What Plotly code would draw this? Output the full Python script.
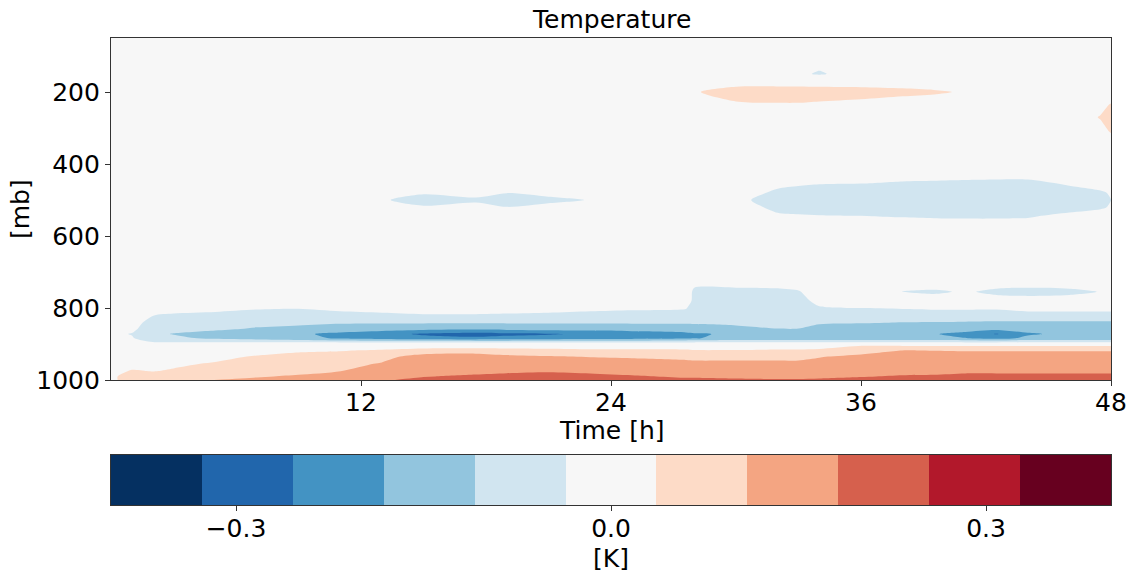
import numpy as np
import plotly.graph_objects as go

# ---------------- data ----------------
time_h = [0, 1, 2, 3, 5, 7, 9, 11, 13, 15, 17.5, 19, 21, 23, 25, 27.6, 28, 30,
          32, 33, 34, 36, 38, 39.5, 41, 42.5, 44, 46, 47.5, 48]

upper_levels_mb = [50, 150, 170, 200, 235, 270, 310, 350, 420, 455, 480, 500, 520, 545, 580]
lower_levels_mb = [690, 730, 755, 780, 800, 820, 840, 858, 872, 884, 896, 906, 918, 935,
                   955, 975, 990, 1000]

# temperature anomaly [K] above 600 mb, one list per time (values at upper_levels_mb)
upper_profiles = [
    [0, 0, 0, 0, 0, 0, 0, 0, 0, 0, 0, 0, 0, 0, 0],                      # 0
    [0, 0, 0, 0, 0, 0, 0, 0, 0, 0, 0, 0, 0, 0, 0],                      # 1
    [0, 0, 0, 0, 0, 0, 0, 0, 0, 0, 0, 0, 0, 0, 0],                      # 2
    [0, 0, 0, 0, 0, 0, 0, 0, 0, 0, 0, 0, 0, 0, 0],                      # 3
    [0, 0, 0, 0, 0, 0, 0, 0, 0, 0, 0, 0, 0, 0, 0],                      # 5
    [0, 0, 0, 0, 0, 0, 0, 0, 0, 0, 0, 0, 0, 0, 0],                      # 7
    [0, 0, 0, 0, 0, 0, 0, 0, 0, 0, 0, 0, 0, 0, 0],                      # 9
    [0, 0, 0, 0, 0, 0, 0, 0, 0, 0, 0, 0, 0, 0, 0],                      # 11
    [0, 0, 0, 0, 0, 0, 0, 0, 0, 0, 0, -0.03, 0, 0, 0],                  # 13
    [0, 0, 0, 0, 0, 0, 0, 0, 0, 0, -0.03, -0.06, -0.03, 0, 0],          # 15
    [0, 0, 0, 0, 0, 0, 0, 0, 0, 0, -0.02, -0.045, -0.02, 0, 0],         # 17.5
    [0, 0, 0, 0, 0, 0, 0, 0, 0, 0, -0.035, -0.065, -0.035, 0, 0],       # 19
    [0, 0, 0, 0, 0, 0, 0, 0, 0, 0, -0.02, -0.05, -0.02, 0, 0],          # 21
    [0, 0, 0, 0, 0, 0, 0, 0, 0, 0, 0, -0.034, 0, 0, 0],                 # 23
    [0, 0, 0, 0, 0, 0, 0, 0, 0, 0, 0, 0, 0, 0, 0],                      # 25
    [0, 0, 0, 0, 0, 0, 0, 0, 0, 0, 0, 0, 0, 0, 0],                      # 27.6
    [0, 0, 0, 0.03, 0, 0, 0, 0, 0, 0, 0, 0, 0, 0, 0],                   # 28
    [0, 0, 0, 0.07, 0.025, 0, 0, 0, 0, 0, 0, -0.02, 0, 0, 0],           # 30
    [0, 0, 0, 0.075, 0.03, 0, 0, 0, 0, -0.02, -0.05, -0.065, -0.055, -0.025, 0],   # 32
    [0, -0.03, 0, 0.075, 0.03, 0, 0, 0, 0, -0.03, -0.055, -0.068, -0.06, -0.03, 0], # 33
    [0, -0.04, 0, 0.07, 0.025, 0, 0, 0, 0, -0.035, -0.058, -0.07, -0.062, -0.033, 0],  # 34
    [0, -0.02, 0, 0.065, 0.015, 0, 0, 0, 0, -0.037, -0.06, -0.07, -0.065, -0.035, 0],  # 36
    [0, 0, 0, 0.055, 0, 0, 0, 0, 0, -0.045, -0.065, -0.072, -0.068, -0.04, 0],     # 38
    [0, 0, 0, 0.045, 0, 0, 0, 0, 0, -0.048, -0.067, -0.073, -0.069, -0.043, 0],    # 39.5
    [0, 0, 0, 0.03, 0, 0, 0, 0, 0, -0.052, -0.068, -0.074, -0.07, -0.045, 0],      # 41
    [0, 0, 0, 0, 0, 0, 0, 0, 0, -0.055, -0.07, -0.075, -0.07, -0.045, 0],          # 42.5
    [0, 0, 0, 0, 0, 0, 0, 0, 0, -0.055, -0.07, -0.075, -0.068, -0.042, 0],         # 44
    [0, 0, 0, 0, 0, 0, 0, 0, 0, -0.03, -0.06, -0.07, -0.06, -0.02, 0],             # 46
    [0, 0, 0, 0, 0.02, 0.04, 0.02, 0, 0, -0.01, -0.045, -0.055, -0.045, -0.005, 0], # 47.5
    [0, 0, 0, 0, 0.04, 0.065, 0.04, 0, 0, 0, -0.03, -0.037, -0.03, 0, 0],          # 48
]

# temperature anomaly [K] below 600 mb, one list per time (values at lower_levels_mb)
lower_profiles = [
    [0, 0, 0, 0, 0, 0, 0, 0, -0.02, -0.01, 0, 0, 0, 0, 0.01, 0.02, 0.03, 0.03],                       # 0
    [0, 0, 0, 0, 0, 0, -0.01, -0.02, -0.04, -0.03, -0.01, 0, 0, 0.01, 0.02, 0.04, 0.05, 0.05],        # 1
    [0, 0, 0, 0, 0, -0.035, -0.06, -0.08, -0.095, -0.08, -0.03, 0, 0.01, 0.015, 0.02, 0.035, 0.05, 0.06],  # 2
    [0, 0, 0, 0, -0.01, -0.045, -0.07, -0.09, -0.112, -0.095, -0.03, 0, 0.01, 0.02, 0.03, 0.04, 0.06, 0.07],  # 3
    [0, 0, 0, 0, -0.02, -0.05, -0.08, -0.1, -0.13, -0.12, -0.03, 0, 0.015, 0.025, 0.04, 0.06, 0.09, 0.11],  # 5
    [0, 0, 0, 0, -0.03, -0.06, -0.09, -0.115, -0.15, -0.14, -0.03, 0, 0.02, 0.04, 0.06, 0.085, 0.105, 0.12],  # 7
    [0, 0, 0, 0, -0.033, -0.065, -0.095, -0.125, -0.17, -0.16, -0.03, 0, 0.03, 0.05, 0.07, 0.095, 0.115, 0.13],  # 9
    [0, 0, 0, 0, -0.025, -0.05, -0.1, -0.14, -0.2, -0.19, -0.03, 0, 0.033, 0.06, 0.085, 0.108, 0.13, 0.145],  # 11
    [0, 0, 0, 0, -0.02, -0.045, -0.1, -0.15, -0.23, -0.21, -0.03, 0, 0.045, 0.085, 0.115, 0.15, 0.17, 0.178],  # 13
    [0, 0, 0, 0, -0.015, -0.04, -0.1, -0.16, -0.265, -0.23, -0.03, 0.01, 0.06, 0.14, 0.16, 0.17, 0.18, 0.19],  # 15
    [0, 0, 0, 0, -0.015, -0.04, -0.1, -0.165, -0.285, -0.24, -0.03, 0.01, 0.065, 0.15, 0.16, 0.17, 0.188, 0.2],  # 17.5
    [0, 0, 0, 0, -0.017, -0.042, -0.1, -0.16, -0.27, -0.235, -0.03, 0.01, 0.06, 0.125, 0.16, 0.175, 0.192, 0.205],  # 19
    [0, 0, 0, 0, -0.02, -0.045, -0.1, -0.155, -0.26, -0.23, -0.03, 0.01, 0.055, 0.115, 0.155, 0.178, 0.195, 0.205],  # 21
    [0, 0, 0, 0, -0.025, -0.05, -0.1, -0.15, -0.245, -0.22, -0.03, 0.005, 0.05, 0.105, 0.15, 0.175, 0.19, 0.2],  # 23
    [0, 0, 0, 0, -0.028, -0.055, -0.1, -0.145, -0.225, -0.21, -0.03, 0.005, 0.048, 0.1, 0.14, 0.17, 0.185, 0.195],  # 25
    [0, 0, 0, 0, -0.033, -0.06, -0.1, -0.14, -0.2, -0.195, -0.03, 0.005, 0.045, 0.093, 0.128, 0.162, 0.178, 0.188],  # 27.6
    [0, -0.02, -0.05, -0.055, -0.06, -0.075, -0.1, -0.135, -0.19, -0.185, -0.03, 0.005, 0.04, 0.09, 0.125, 0.16, 0.178, 0.188],  # 28
    [0, -0.02, -0.05, -0.055, -0.06, -0.075, -0.095, -0.125, -0.17, -0.165, -0.03, 0.005, 0.04, 0.09, 0.125, 0.16, 0.177, 0.185],  # 30
    [0, -0.018, -0.048, -0.055, -0.06, -0.07, -0.09, -0.11, -0.16, -0.16, -0.03, 0.008, 0.045, 0.09, 0.125, 0.16, 0.176, 0.184],  # 32
    [0, -0.015, -0.04, -0.05, -0.058, -0.07, -0.09, -0.11, -0.16, -0.16, -0.03, 0.008, 0.045, 0.09, 0.125, 0.16, 0.176, 0.184],  # 33
    [0, 0, -0.01, -0.025, -0.04, -0.065, -0.1, -0.13, -0.165, -0.16, -0.03, 0.01, 0.05, 0.105, 0.13, 0.16, 0.176, 0.186],  # 34
    [0, 0, 0, -0.02, -0.036, -0.06, -0.105, -0.135, -0.17, -0.165, -0.03, 0.04, 0.08, 0.125, 0.14, 0.165, 0.18, 0.19],  # 36
    [0, 0, -0.038, -0.01, -0.033, -0.06, -0.11, -0.14, -0.17, -0.165, -0.03, 0.04, 0.11, 0.14, 0.15, 0.17, 0.185, 0.19],  # 38
    [0, -0.005, -0.045, -0.01, -0.03, -0.058, -0.112, -0.15, -0.178, -0.17, -0.03, 0.04, 0.108, 0.14, 0.15, 0.172, 0.186, 0.19],  # 39.5
    [0, -0.005, -0.03, -0.005, -0.03, -0.058, -0.115, -0.155, -0.2, -0.18, -0.03, 0.04, 0.105, 0.14, 0.15, 0.175, 0.19, 0.195],  # 41
    [0, -0.015, -0.048, -0.015, -0.03, -0.06, -0.118, -0.16, -0.26, -0.2, -0.03, 0.04, 0.105, 0.14, 0.15, 0.175, 0.19, 0.195],  # 42.5
    [0, -0.02, -0.05, -0.02, -0.022, -0.052, -0.12, -0.16, -0.188, -0.17, -0.03, 0.04, 0.105, 0.14, 0.15, 0.175, 0.19, 0.195],  # 44
    [0, -0.015, -0.048, -0.015, -0.022, -0.052, -0.12, -0.155, -0.17, -0.165, -0.03, 0.04, 0.105, 0.14, 0.15, 0.175, 0.19, 0.195],  # 46
    [0, -0.005, -0.035, -0.005, -0.022, -0.052, -0.12, -0.155, -0.17, -0.165, -0.03, 0.04, 0.105, 0.14, 0.15, 0.175, 0.19, 0.195],  # 47.5
    [0, 0, -0.02, 0, -0.022, -0.052, -0.12, -0.155, -0.17, -0.165, -0.03, 0.04, 0.105, 0.14, 0.15, 0.175, 0.19, 0.195],  # 48
]

x_tick_values = [12, 24, 36, 48]
y_tick_values = [200, 400, 600, 800, 1000]
cbar_tick_values = [-0.3, 0.0, 0.3]
cbar_tick_labels = ["\u22120.3", "0.0", "0.3"]

band_colors = ["#053061", "#2166ac", "#4393c3", "#92c5de", "#d1e5f0", "#f7f7f7",
               "#fddbc7", "#f4a582", "#d6604d", "#b2182b", "#67001f"]
level_min, level_max = -0.4, 0.4

# ---------------- figure ----------------
pressure_mb = upper_levels_mb + lower_levels_mb
z = np.array([u + l for u, l in zip(upper_profiles, lower_profiles)], dtype=float).T

n_bands = len(band_colors)
step = (level_max - level_min) / n_bands
colorscale = []
for k, c in enumerate(band_colors):
    colorscale.append([k / n_bands, c])
    colorscale.append([(k + 1) / n_bands, c])
band_centers = [level_min + step * (k + 0.5) for k in range(n_bands)]

FONT = "DejaVu Sans"
fs = 25
W, H = 1133, 574
M_L, M_R, M_T, M_B = 111, 22, 38, 69
area_h = H - M_T - M_B            # 467 px : main plot + colorbar
main_bottom_px, cb_top_px = 380, 455


def py(px):
    """pixel row -> paper fraction"""
    return (H - M_B - px) / area_h


fig = go.Figure()
fig.add_trace(go.Contour(
    x=time_h, y=pressure_mb, z=z,
    colorscale=colorscale, zmin=level_min, zmax=level_max,
    contours=dict(start=level_min + step, end=level_max - step, size=step,
                  coloring="fill", showlines=False),
    line=dict(width=0, smoothing=0.8),
    showscale=False, hoverinfo="skip",
    xaxis="x", yaxis="y",
))
# colour bar drawn as a one-row heatmap on its own axes
fig.add_trace(go.Heatmap(
    x=band_centers, y=[0], z=[band_centers],
    colorscale=colorscale, zmin=level_min, zmax=level_max,
    showscale=False, hoverinfo="skip",
    xaxis="x2", yaxis="y2",
))

axis_common = dict(showline=True, linecolor="#333", linewidth=1.2, mirror=True,
                   ticks="outside", ticklen=5, tickwidth=1.2, tickcolor="#333",
                   tickfont=dict(family=FONT, size=fs, color="black"),
                   showgrid=False, zeroline=False, automargin=False)

fig.update_layout(
    template="none",
    width=W, height=H,
    margin=dict(l=M_L, r=M_R, t=M_T, b=M_B, autoexpand=False),
    paper_bgcolor="white", plot_bgcolor="white",
    showlegend=False,
    xaxis=dict(range=[0, 48], tickvals=x_tick_values, domain=[0, 1], anchor="y",
               ticklabelstandoff=-5, **axis_common),
    yaxis=dict(range=[1000, 50], tickvals=y_tick_values, domain=[py(main_bottom_px), 1],
               anchor="x", **axis_common),
    xaxis2=dict(range=[level_min, level_max], tickvals=cbar_tick_values,
                ticktext=cbar_tick_labels, domain=[0, 1], anchor="y2",
                ticklabelstandoff=-4, **axis_common),
    yaxis2=dict(range=[-0.5, 0.5], domain=[0, py(cb_top_px)], anchor="x2",
                showline=True, linecolor="#333", linewidth=1.2, mirror=True,
                showticklabels=False, ticks="", showgrid=False, zeroline=False,
                automargin=False),
    annotations=[
        dict(text="Temperature", xref="paper", yref="paper", x=0.5, y=1, xanchor="center",
             yanchor="bottom", yshift=2, showarrow=False,
             font=dict(family=FONT, size=fs, color="black")),
        dict(text="Time [h]", xref="paper", yref="paper", x=0.5, y=py(main_bottom_px),
             xanchor="center", yanchor="top", yshift=-34, showarrow=False,
             font=dict(family=FONT, size=fs, color="black")),
        dict(text="[mb]", xref="paper", yref="paper", x=-0.091, y=py(209), xanchor="center",
             yanchor="middle", textangle=-90, showarrow=False,
             font=dict(family=FONT, size=fs, color="black")),
        dict(text="[K]", xref="paper", yref="paper", x=0.5, y=py(558),
             xanchor="center", yanchor="middle", showarrow=False,
             font=dict(family=FONT, size=fs, color="black")),
    ],
)

fig.write_html("out.html")
